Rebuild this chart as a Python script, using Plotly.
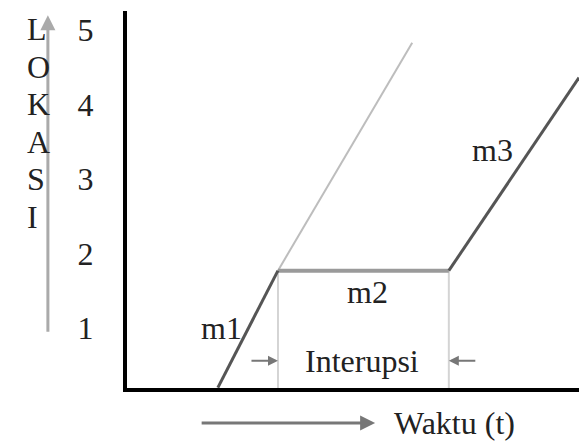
import plotly.graph_objects as go

# ---- data (time units arbitrary, location units as on axis) ----
y_ticks = [1, 2, 3, 4, 5]
y_ticklabels = ["1", "2", "3", "4", "5"]

m1_t = [2.01, 3.34]
m1_loc = [0.2, 1.77]

proj_t = [3.34, 6.31]
proj_loc = [1.77, 4.83]

m2_t = [3.34, 7.12]
m2_loc = [1.77, 1.77]

m3_t = [7.12, 10.0]
m3_loc = [1.77, 4.36]

bound_left_t = [3.34, 3.34]
bound_right_t = [7.12, 7.12]
bound_loc = [0.195, 1.77]

labels = ["m1", "m2", "m3", "Interupsi"]
label_t = [2.08, 5.31, 8.08, 5.2]
label_loc = [1.0, 1.48, 3.39, 0.56]

y_title_letters = ["L", "O", "K", "A", "S", "I"]
x_title = "Waktu (t)"

FONT = "Liberation Serif, Times New Roman, serif"
FS = 32

fig = go.Figure()

def line(t, loc, color, width):
    fig.add_trace(go.Scatter(x=t, y=loc, mode="lines",
                             line=dict(color=color, width=width),
                             hoverinfo="skip", showlegend=False))

line(proj_t, proj_loc, "#bdbdbd", 2)
line(bound_left_t, bound_loc, "#d4d4d4", 2)
line(bound_right_t, bound_loc, "#d4d4d4", 2)
line(m2_t, m2_loc, "#9a9a9a", 4)
line(m1_t, m1_loc, "#555555", 3)
line(m3_t, m3_loc, "#555555", 3)

for txt, t, l in zip(labels, label_t, label_loc):
    fig.add_annotation(x=t, y=l, text=txt, showarrow=False,
                       font=dict(family=FONT, size=FS, color="#222"))

# small arrows pointing at the interruption boundaries
arrow_loc = label_loc[3]
fig.add_annotation(x=m2_t[0], y=arrow_loc, ax=-28, ay=0, text="",
                   showarrow=True, arrowhead=2, arrowsize=1, arrowwidth=2,
                   arrowcolor="#777")
fig.add_annotation(x=m2_t[1], y=arrow_loc, ax=28, ay=0, text="",
                   showarrow=True, arrowhead=2, arrowsize=1, arrowwidth=2,
                   arrowcolor="#777")

# axis direction arrows (outside the plot area)
fig.add_annotation(xref="paper", yref="paper", x=-0.175, y=0.989,
                   ax=0, ay=318, text="", showarrow=True, arrowhead=2,
                   arrowsize=1, arrowwidth=3, arrowcolor="#aaaaaa")
fig.add_annotation(xref="paper", yref="paper", x=0.549, y=-0.093,
                   ax=-175, ay=0, text="", showarrow=True, arrowhead=2,
                   arrowsize=1, arrowwidth=3, arrowcolor="#777777")
fig.add_annotation(xref="paper", yref="paper", x=0.586, y=-0.093,
                   xanchor="left", yanchor="middle", text=x_title,
                   showarrow=False, font=dict(family=FONT, size=FS, color="#222"))

for i, letter in enumerate(y_title_letters):
    fig.add_annotation(xref="paper", yref="paper", x=-0.2257,
                       y=1.0, yshift=-18 - 37.6 * i, yanchor="middle",
                       text=letter, showarrow=False,
                       font=dict(family=FONT, size=FS, color="#222"))

fig.update_xaxes(range=[0, 10], showgrid=False, zeroline=False,
                 showticklabels=False, ticks="", showline=True,
                 linecolor="black", linewidth=4)
fig.update_yaxes(range=[0.195, 5.255], showgrid=False, zeroline=False,
                 tickvals=y_ticks, ticktext=y_ticklabels, ticks="",
                 ticklabelstandoff=23, showline=True,
                 linecolor="black", linewidth=4,
                 tickfont=dict(family=FONT, size=FS, color="#222"))

fig.update_layout(width=579, height=442,
                  margin=dict(l=127, r=0, t=11, b=54),
                  plot_bgcolor="white", paper_bgcolor="white")

# remove the default page margin so the figure fills the window exactly
fig.write_html(
    "out.html",
    config={"displayModeBar": False, "staticPlot": True},
    post_script=(
        "document.body.style.margin='0';"
        "document.body.style.overflow='hidden';"
        "document.documentElement.style.overflow='hidden';"
    ),
)
